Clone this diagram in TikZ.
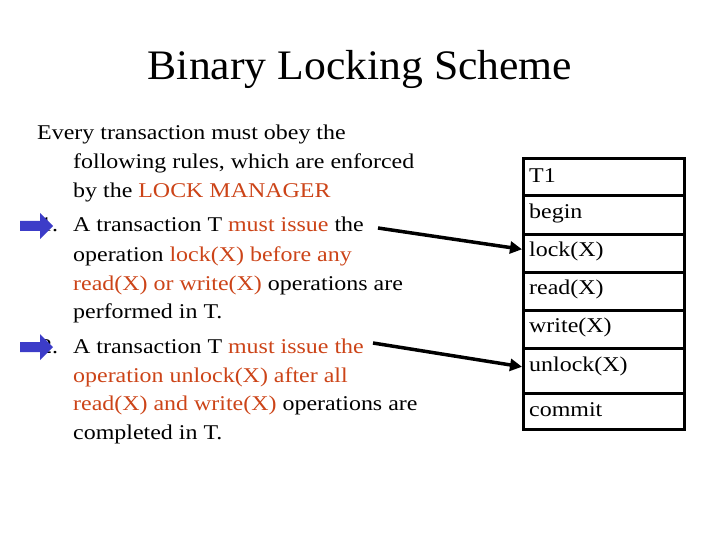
\documentclass[tikz,border=0pt]{standalone}
\usepackage{fontspec}
\setmainfont{Liberation Serif}
\newfontfamily\bodyfont[FakeStretch=1.14]{Liberation Serif}
\newfontfamily\titlefont[FakeStretch=1.04]{Liberation Serif}
\usetikzlibrary{arrows.meta}
\definecolor{hl}{RGB}{204,68,24}
\definecolor{bluearr}{RGB}{60,60,200}
\begin{document}
\begin{tikzpicture}[x=1pt,y=-1pt,
  txt/.style={anchor=base west,inner sep=0,font=\bodyfont\fontsize{21}{25}\selectfont},
  cell/.style={draw,line width=2.6pt,minimum width=161pt,anchor=north west,inner sep=0},
  celltxt/.style={anchor=west,inner sep=0,font=\bodyfont\fontsize{21}{25}\selectfont},
  conn/.style={line width=3.5pt,-{Triangle[length=12pt,width=12pt]}},
  bl/.style={fill=bluearr,draw=none}]
\useasboundingbox (0,0) rectangle (720,540);
\node[anchor=base,inner sep=0,font=\titlefont\fontsize{42}{48}\selectfont] (title) at (360,80) {Binary Locking Scheme};
\node[txt] (l1) at (37,140) {Every transaction must obey the};
\node[txt] (l2) at (73,169) {following rules, which are enforced};
\node[txt] (l3) at (73,197) {by the \textcolor{hl}{LOCK MANAGER}};
\node[txt] (n1) at (40,232) {1.};
\node[txt] (l4) at (73,232) {A transaction T \textcolor{hl}{must issue} the};
\node[txt] (l5) at (73,261) {operation \textcolor{hl}{lock(X) before any}};
\node[txt] (l6) at (73,290) {\textcolor{hl}{read(X) or write(X)} operations are};
\node[txt] (l7) at (73,318) {performed in T.};
\node[txt] (n2) at (40,353) {2.};
\node[txt] (l8) at (73,353) {A transaction T \textcolor{hl}{must issue the}};
\node[txt] (l9) at (73,382) {\textcolor{hl}{operation unlock(X) after all}};
\node[txt] (l10) at (73,410) {\textcolor{hl}{read(X) and write(X)} operations are};
\node[txt] (l11) at (73,439) {completed in T.};
% blue bullet arrows
\fill[bl] (20,221) -- (40,221) -- (40,213) -- (53,226) -- (40,239) -- (40,231) -- (20,231) -- cycle;
\fill[bl] (20,342) -- (40,342) -- (40,334) -- (53,347) -- (40,360) -- (40,352) -- (20,352) -- cycle;
% table
\node[cell,minimum height=37pt] (c0) at (522,157) {};
\node[cell,minimum height=39pt] (c1) at (522,194) {};
\node[cell,minimum height=38pt] (c2) at (522,233) {};
\node[cell,minimum height=38pt] (c3) at (522,271) {};
\node[cell,minimum height=38pt] (c4) at (522,309) {};
\node[cell,minimum height=45pt] (c5) at (522,347) {};
\node[cell,minimum height=36pt] (c6) at (522,392) {};
\node[celltxt] at (529,176) {T1};
\node[celltxt] at (529,213) {begin};
\node[celltxt] at (529,251) {lock(X)};
\node[celltxt] at (529,289) {read(X)};
\node[celltxt] at (529,327) {write(X)};
\node[celltxt] at (529,366) {unlock(X)};
\node[celltxt] at (529,410) {commit};
\coordinate (s1) at (378,228);
\coordinate (s2) at (373,343);
\draw[conn] (s1) -- ([yshift=4pt]c2.west);
\draw[conn] (s2) -- ([yshift=4pt]c5.west);
\end{tikzpicture}
\end{document}
